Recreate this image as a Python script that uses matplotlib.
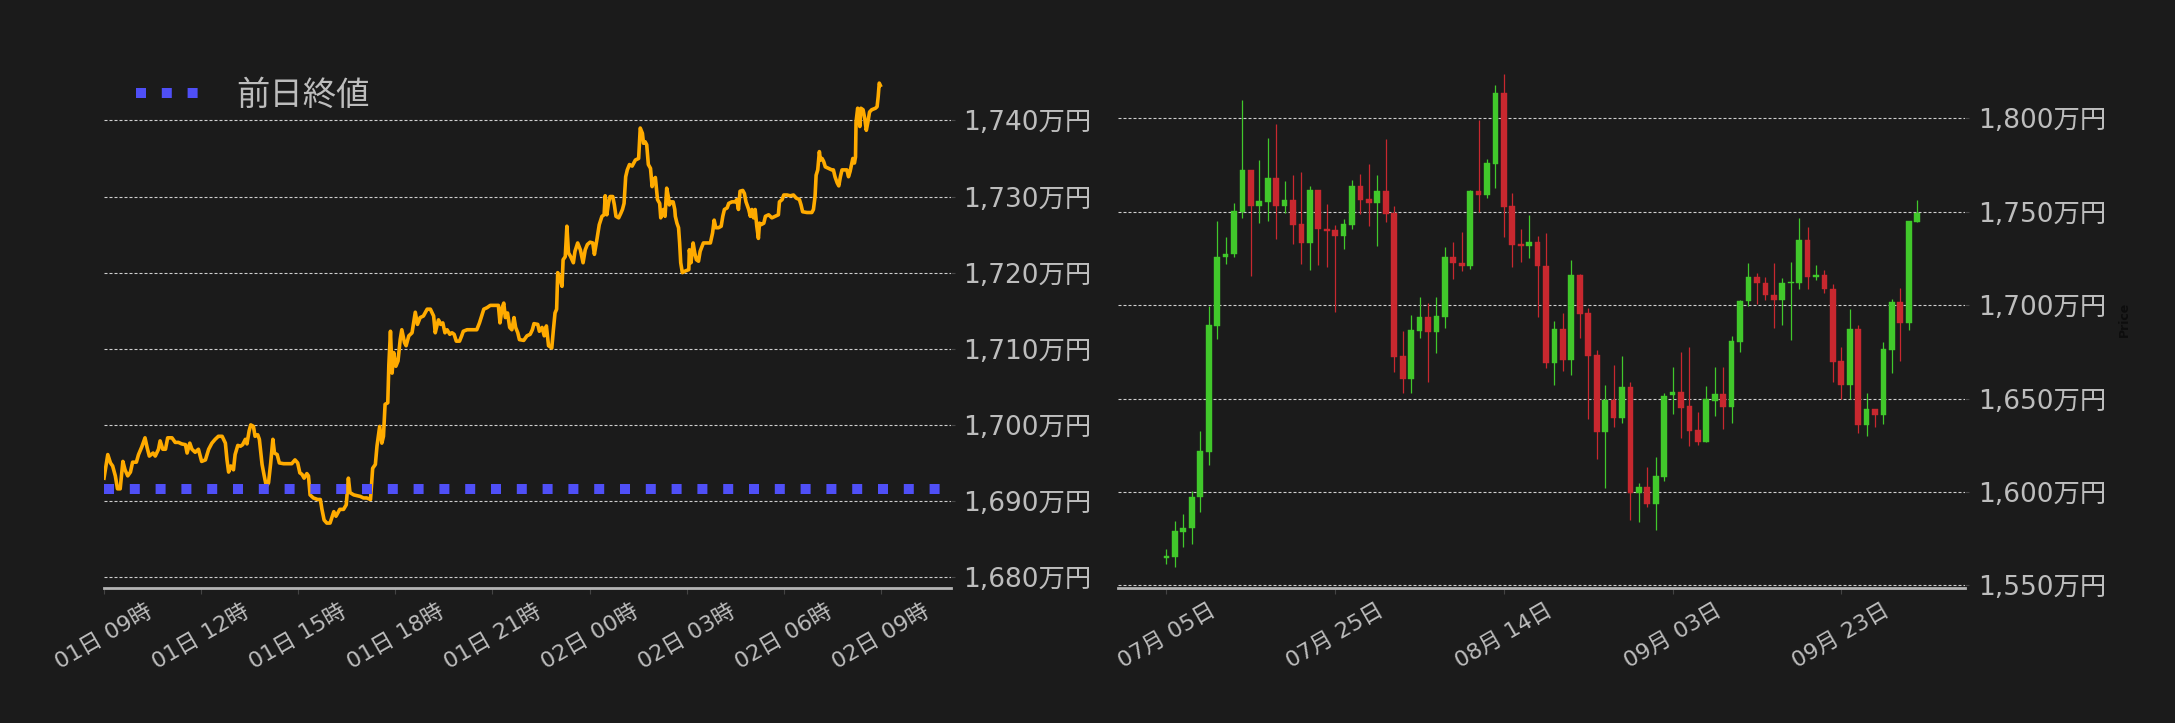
import matplotlib
matplotlib.use("Agg")
import matplotlib.pyplot as plt
import matplotlib.dates as mdates
from matplotlib.ticker import FuncFormatter, FixedLocator
import pandas as pd
import numpy as np

plt.rcParams['font.family'] = ['DejaVu Sans', 'Noto Sans CJK JP']

# ---------------- data: intraday (left) ----------------
start_time = "2024-10-01 09:00"
prev_close = 1691.55
legend_label = "前日終値"

minutes = [0, 7, 12, 16, 21, 25, 30, 35, 39, 44, 49, 53, 60, 64, 70, 76, 80, 84, 91, 95,
           101, 104, 109, 114, 118, 126, 132, 138, 144, 151, 154, 159, 163, 169, 175, 181, 188, 194, 200, 206,
           212, 219, 225, 228, 231, 235, 240, 243, 248, 253, 257, 262, 265, 269, 272, 277, 280, 285, 288, 293,
           297, 301, 305, 309, 313, 316, 321, 325, 333, 348, 354, 359, 363, 367, 371, 376, 379, 382, 388, 396,
           401, 404, 408, 413, 419, 426, 430, 437, 444, 449, 453, 456, 463, 469, 475, 481, 487, 494, 498, 503,
           506, 511, 515, 518, 521, 526, 528, 531, 534, 537, 541, 545, 549, 552, 557, 560, 565, 571, 577, 581,
           586, 592, 599, 605, 611, 614, 617, 620, 624, 628, 632, 636, 641, 645, 649, 653, 659, 663, 666, 673,
           691, 696, 700, 704, 710, 716, 731, 734, 738, 741, 744, 748, 752, 756, 760, 763, 767, 770, 778, 784,
           790, 794, 797, 804, 807, 812, 816, 820, 824, 830, 833, 836, 839, 841, 844, 849, 851, 855, 858, 861,
           865, 870, 873, 878, 883, 888, 892, 896, 901, 906, 909, 914, 918, 923, 927, 929, 932, 935, 938, 943,
           946, 949, 954, 958, 961, 964, 967, 970, 974, 979, 985, 991, 994, 998, 1000, 1003, 1006, 1009, 1013, 1016,
           1019, 1022, 1024, 1026, 1030, 1032, 1037, 1040, 1043, 1046, 1048, 1051, 1055, 1058, 1059, 1062, 1065, 1067, 1069, 1072,
           1077, 1084, 1085, 1088, 1092, 1095, 1098, 1102, 1105, 1111, 1124, 1128, 1131, 1134, 1139, 1144, 1147, 1150, 1155, 1158,
           1164, 1170, 1173, 1176, 1179, 1184, 1187, 1190, 1195, 1198, 1201, 1204, 1207, 1210, 1213, 1215, 1218, 1223, 1226, 1232,
           1238, 1244, 1250, 1252, 1257, 1260, 1266, 1272, 1278, 1283, 1289, 1292, 1295, 1303, 1312, 1315, 1318, 1320, 1323, 1326,
           1328, 1331, 1334, 1337, 1343, 1349, 1352, 1355, 1359, 1362, 1365, 1368, 1372, 1377, 1380, 1383, 1388, 1391, 1393, 1394,
           1397, 1401, 1403, 1407, 1410, 1413, 1416, 1419, 1423, 1430, 1433, 1435, 1437, 1439]

prices = [1693.0, 1696.1, 1695.0, 1694.6, 1693.3, 1691.6, 1691.6, 1695.2, 1694.1, 1693.3, 1693.8, 1695.1, 1695.1, 1696.1, 1697.1, 1698.3, 1697.0, 1695.9, 1696.3, 1695.9,
          1696.8, 1697.9, 1696.8, 1696.8, 1698.3, 1698.3, 1697.7, 1697.7, 1697.5, 1697.4, 1696.3, 1697.6, 1696.8, 1696.4, 1696.8, 1695.2, 1695.4, 1696.8, 1697.6, 1698.1,
          1698.5, 1698.5, 1697.6, 1695.4, 1693.8, 1694.6, 1694.1, 1696.1, 1697.3, 1697.2, 1697.4, 1698.1, 1697.5, 1699.2, 1700.0, 1699.8, 1698.5, 1698.7, 1698.1, 1694.8,
          1693.3, 1691.9, 1692.4, 1695.0, 1698.1, 1696.3, 1696.1, 1695.0, 1694.9, 1694.9, 1695.4, 1695.0, 1693.7, 1693.5, 1693.0, 1693.6, 1693.3, 1690.8, 1690.4, 1690.2,
          1690.2, 1688.9, 1687.5, 1687.1, 1687.1, 1688.6, 1688.0, 1688.9, 1688.9, 1689.5, 1693.0, 1691.1, 1690.8, 1690.7, 1690.6, 1690.4, 1690.4, 1690.2, 1694.3, 1694.8,
          1697.2, 1699.8, 1697.6, 1698.5, 1702.7, 1702.9, 1707.9, 1712.3, 1706.8, 1709.5, 1707.7, 1708.4, 1711.2, 1712.5, 1710.8, 1710.4, 1711.7, 1712.1, 1714.8, 1713.2,
          1714.1, 1714.3, 1715.2, 1715.2, 1714.3, 1712.1, 1713.0, 1713.8, 1713.2, 1713.4, 1712.1, 1712.5, 1711.9, 1712.1, 1711.9, 1711.0, 1711.0, 1711.7, 1712.3, 1712.5,
          1712.5, 1713.4, 1714.3, 1715.2, 1715.4, 1715.7, 1715.7, 1713.4, 1715.4, 1716.0, 1714.1, 1714.7, 1712.8, 1712.5, 1714.1, 1712.8, 1712.1, 1711.2, 1711.1, 1711.7,
          1711.9, 1712.5, 1713.3, 1713.2, 1712.3, 1712.8, 1711.7, 1713.0, 1710.4, 1710.1, 1712.5, 1714.7, 1715.2, 1720.0, 1719.5, 1718.2, 1721.7, 1722.1, 1726.1, 1722.6,
          1722.1, 1721.3, 1722.8, 1723.9, 1723.0, 1721.3, 1723.0, 1723.7, 1724.0, 1723.9, 1722.4, 1724.5, 1726.3, 1727.4, 1727.6, 1730.1, 1727.6, 1729.1, 1730.0, 1730.0,
          1728.9, 1727.4, 1727.2, 1727.8, 1728.3, 1729.1, 1732.6, 1733.5, 1734.2, 1734.0, 1734.8, 1735.0, 1739.0, 1738.3, 1737.0, 1737.2, 1736.8, 1734.2, 1733.7, 1731.3,
          1732.2, 1732.5, 1731.1, 1729.6, 1729.1, 1727.2, 1728.3, 1727.4, 1731.1, 1730.0, 1728.9, 1729.3, 1729.3, 1728.3, 1727.4, 1726.5, 1725.9, 1723.9, 1721.3, 1720.0,
          1720.2, 1720.4, 1723.0, 1721.3, 1723.9, 1722.6, 1721.7, 1721.5, 1722.8, 1723.9, 1723.9, 1725.2, 1726.9, 1725.9, 1725.9, 1726.1, 1727.4, 1728.3, 1728.5, 1729.1,
          1729.3, 1729.3, 1729.6, 1728.3, 1730.7, 1730.8, 1730.4, 1729.3, 1728.3, 1727.4, 1728.3, 1727.2, 1728.3, 1726.1, 1724.5, 1726.5, 1726.3, 1726.5, 1727.4, 1727.6,
          1727.2, 1727.4, 1727.6, 1729.3, 1729.6, 1730.2, 1730.2, 1730.1, 1730.2, 1729.8, 1729.6, 1728.9, 1728.0, 1727.9, 1727.9, 1728.3, 1730.0, 1732.8, 1733.5, 1735.9,
          1734.8, 1735.0, 1734.6, 1733.9, 1733.7, 1733.5, 1733.5, 1732.6, 1731.8, 1731.4, 1732.6, 1733.5, 1733.5, 1733.5, 1732.6, 1733.3, 1735.0, 1734.4, 1735.2, 1739.8,
          1741.6, 1739.2, 1741.6, 1741.4, 1740.3, 1738.7, 1739.8, 1741.1, 1741.4, 1741.6, 1741.8, 1743.1, 1744.9, 1744.6]

# ---------------- data: daily candles (right) ----------------
candle_start = "2024-07-05"
opens = [1564.9, 1565.2, 1578.7, 1580.5, 1597.1, 1621.3, 1688.9, 1725.6, 1727.2, 1749.8,
         1772.2, 1753.0, 1755.2, 1767.9, 1753.0, 1756.1, 1743.2, 1733.2, 1761.5, 1741.0,
         1740.0, 1736.9, 1742.8, 1763.6, 1756.6, 1754.7, 1760.9, 1749.1, 1672.8, 1660.6,
         1686.2, 1693.7, 1685.7, 1693.7, 1726.0, 1722.8, 1720.8, 1760.9, 1758.8, 1775.6,
         1813.6, 1752.9, 1732.6, 1731.5, 1733.9, 1721.1, 1669.2, 1687.3, 1670.8, 1716.3,
         1695.9, 1673.3, 1632.1, 1649.1, 1639.6, 1656.1, 1599.3, 1602.9, 1593.4, 1608.2,
         1652.0, 1653.4, 1645.9, 1633.0, 1626.7, 1648.7, 1652.3, 1645.5, 1680.5, 1702.0,
         1715.2, 1712.0, 1705.6, 1703.0, 1711.6, 1712.0, 1735.1, 1714.9, 1716.3, 1708.8,
         1670.1, 1657.3, 1687.3, 1635.8, 1644.3, 1641.2, 1676.2, 1701.8, 1690.5, 1744.3]
highs = [1569.4, 1584.4, 1588.4, 1600.5, 1632.4, 1699.3, 1745.2, 1736.6, 1754.8, 1809.7,
         1772.2, 1777.6, 1789.2, 1797.0, 1766.3, 1769.5, 1771.0, 1763.6, 1761.5, 1754.3,
         1742.7, 1745.9, 1767.2, 1770.1, 1775.4, 1769.9, 1788.9, 1752.9, 1686.2, 1694.6,
         1704.3, 1701.1, 1704.3, 1731.0, 1733.9, 1739.2, 1761.5, 1799.1, 1778.0, 1817.7,
         1823.8, 1760.2, 1740.9, 1748.4, 1737.1, 1738.7, 1691.4, 1695.7, 1724.2, 1716.7,
         1698.7, 1676.2, 1657.5, 1667.9, 1672.6, 1659.0, 1604.8, 1613.1, 1618.5, 1653.0,
         1666.8, 1674.9, 1677.6, 1642.7, 1656.5, 1666.8, 1666.8, 1683.3, 1703.0, 1722.8,
         1717.4, 1715.2, 1722.8, 1714.5, 1723.1, 1746.8, 1741.6, 1721.5, 1719.0, 1711.5,
         1677.6, 1697.8, 1689.2, 1652.9, 1644.3, 1680.3, 1703.4, 1709.3, 1744.8, 1756.1]
lows = [1561.7, 1560.0, 1570.3, 1572.0, 1589.1, 1614.5, 1681.7, 1722.0, 1725.6, 1746.8,
        1715.4, 1743.9, 1745.2, 1735.3, 1749.5, 1732.6, 1721.9, 1718.8, 1721.3, 1720.3,
        1696.1, 1730.1, 1740.7, 1748.9, 1742.3, 1731.5, 1744.4, 1664.3, 1653.0, 1653.0,
        1682.3, 1659.0, 1674.2, 1687.6, 1713.8, 1718.1, 1719.2, 1749.8, 1757.5, 1762.7,
        1736.4, 1720.3, 1722.9, 1725.3, 1693.4, 1666.1, 1657.2, 1664.5, 1662.4, 1682.3,
        1639.1, 1617.6, 1602.2, 1634.8, 1636.9, 1584.8, 1583.7, 1591.8, 1579.9, 1605.9,
        1641.9, 1628.9, 1624.7, 1625.3, 1626.7, 1640.9, 1633.7, 1637.1, 1675.1, 1699.3,
        1700.5, 1702.5, 1688.0, 1689.2, 1681.2, 1708.4, 1708.4, 1713.3, 1706.3, 1659.0,
        1649.8, 1649.8, 1631.5, 1630.1, 1634.8, 1636.4, 1663.8, 1670.3, 1686.6, 1744.3]
closes = [1565.8, 1579.2, 1580.8, 1597.5, 1621.7, 1689.4, 1726.0, 1727.6, 1750.2, 1772.2,
          1753.0, 1755.6, 1767.9, 1753.0, 1756.1, 1742.8, 1733.2, 1761.5, 1740.7, 1739.6,
          1736.9, 1743.2, 1763.6, 1756.1, 1754.7, 1760.9, 1748.7, 1672.4, 1660.6, 1686.7,
          1693.7, 1685.7, 1694.3, 1726.0, 1722.4, 1720.8, 1760.9, 1758.8, 1776.0, 1813.6,
          1752.5, 1732.1, 1731.5, 1733.9, 1720.8, 1669.2, 1687.3, 1670.8, 1716.3, 1695.5,
          1672.9, 1632.1, 1649.1, 1639.6, 1656.1, 1599.3, 1602.9, 1593.4, 1608.8, 1651.6,
          1653.4, 1645.0, 1632.6, 1626.7, 1649.5, 1652.3, 1645.5, 1680.8, 1702.3, 1715.2,
          1711.6, 1705.2, 1703.0, 1712.0, 1712.5, 1735.1, 1714.9, 1716.3, 1708.4, 1669.7,
          1657.3, 1687.3, 1635.8, 1644.3, 1641.2, 1676.5, 1701.8, 1690.5, 1744.8, 1749.1]
daily_tick_dates = ["2024-07-05", "2024-07-25", "2024-08-14", "2024-09-03", "2024-09-23"]

left_yticks = [1680, 1690, 1700, 1710, 1720, 1730, 1740]
right_yticks = [1550, 1600, 1650, 1700, 1750, 1800]

# ---------------- style ----------------
BG = '#1b1b1b'
TXT = '#bdbdbd'
GRID = '#cfcfcf'
SPINE = '#b4b4b4'
ORANGE = '#ffab00'
BLUE = '#4f4ff7'
UP = '#41c82b'
DOWN = '#c8282f'

W, H = 2175, 723
fig = plt.figure(figsize=(W / 100, H / 100), dpi=100, facecolor=BG)

ax_bottom = 1 - 588 / H
ax_height = (588 - 50) / H
ax1 = fig.add_axes([104 / W, ax_bottom, (951 - 104) / W, ax_height])
ax2 = fig.add_axes([1117.8 / W, ax_bottom, (1965.2 - 1117.8) / W, ax_height])


def style_axes(ax):
    ax.set_facecolor(BG)
    for s in ('top', 'left', 'right'):
        ax.spines[s].set_visible(False)
    ax.spines['bottom'].set_color(SPINE)
    ax.spines['bottom'].set_linewidth(2.0)
    ax.yaxis.tick_right()
    ax.tick_params(axis='y', which='both', colors='#444444', labelcolor=TXT,
                   labelsize=19, length=3, pad=6, left=False, right=True)
    ax.tick_params(axis='x', which='both', colors='#444444', labelcolor=TXT,
                   labelsize=16, length=4, pad=5)
    ax.grid(axis='y', color=GRID, linewidth=0.8, linestyle=(0, (2.7, 1.8)))
    ax.grid(axis='x', visible=False)
    ax.set_axisbelow(True)
    ax.yaxis.set_major_formatter(FuncFormatter(lambda v, p: f"{v:,.0f}万円"))


# ---------------- left: intraday line ----------------
t0 = pd.Timestamp(start_time)
times = t0 + pd.to_timedelta(minutes, unit='min')
style_axes(ax1)
ax1.plot(times, prices, color=ORANGE, linewidth=2.6, solid_joinstyle='round', zorder=3)
ax1.axhline(prev_close, color=BLUE, linewidth=7.2, linestyle=(0, (1, 1.58)),
            dash_capstyle='butt', zorder=4, label=legend_label)
ax1.set_xlim(t0, t0 + pd.Timedelta(minutes=1570))
ax1.set_ylim(1678.57, 1749.25)
ax1.yaxis.set_major_locator(FixedLocator(left_yticks))
ax1.xaxis.set_major_locator(mdates.HourLocator(byhour=range(0, 24, 3)))
ax1.xaxis.set_major_formatter(mdates.DateFormatter('%d日 %H時'))
for lbl in ax1.get_xticklabels():
    lbl.set_rotation(30)
    lbl.set_ha('center')
leg = ax1.legend(loc='center left', bbox_to_anchor=(0.022, 0.9164), frameon=False,
                 fontsize=24, labelcolor=TXT, handlelength=2.0, handletextpad=1.0,
                 borderaxespad=0)

# ---------------- right: candlesticks ----------------
style_axes(ax2)
dates = pd.date_range(candle_start, periods=len(opens), freq='D')
dnum = mdates.date2num(dates)
o = np.array(opens); h = np.array(highs); l = np.array(lows); c = np.array(closes)
colors = np.where(c >= o, UP, DOWN)
ax2.vlines(dnum, l, h, colors=colors, linewidth=0.9, zorder=2)
body_low = np.minimum(o, c)
body_h = np.maximum(np.abs(c - o), 0.8)
ax2.bar(dnum, body_h, bottom=body_low, width=0.68, color=colors, edgecolor=colors,
        linewidth=0.3, zorder=3)
ax2.set_xlim(dnum[0] - 5.77, dnum[0] + 94.69)
ax2.set_ylim(1548.6, 1836.55)
ax2.yaxis.set_major_locator(FixedLocator(right_yticks))
ax2.xaxis.set_major_locator(FixedLocator(mdates.date2num(pd.to_datetime(daily_tick_dates))))
ax2.xaxis.set_major_formatter(mdates.DateFormatter('%m月 %d日'))
for lbl in ax2.get_xticklabels():
    lbl.set_rotation(30)
    lbl.set_ha('center')
ax2.yaxis.set_label_position('right')
ax2.set_ylabel('Price', color='#0d0d0d', fontsize=9, fontweight='bold')
ax2.yaxis.set_label_coords(1.1803, 0.5)

fig.savefig('out.png', dpi=100, facecolor=BG)
